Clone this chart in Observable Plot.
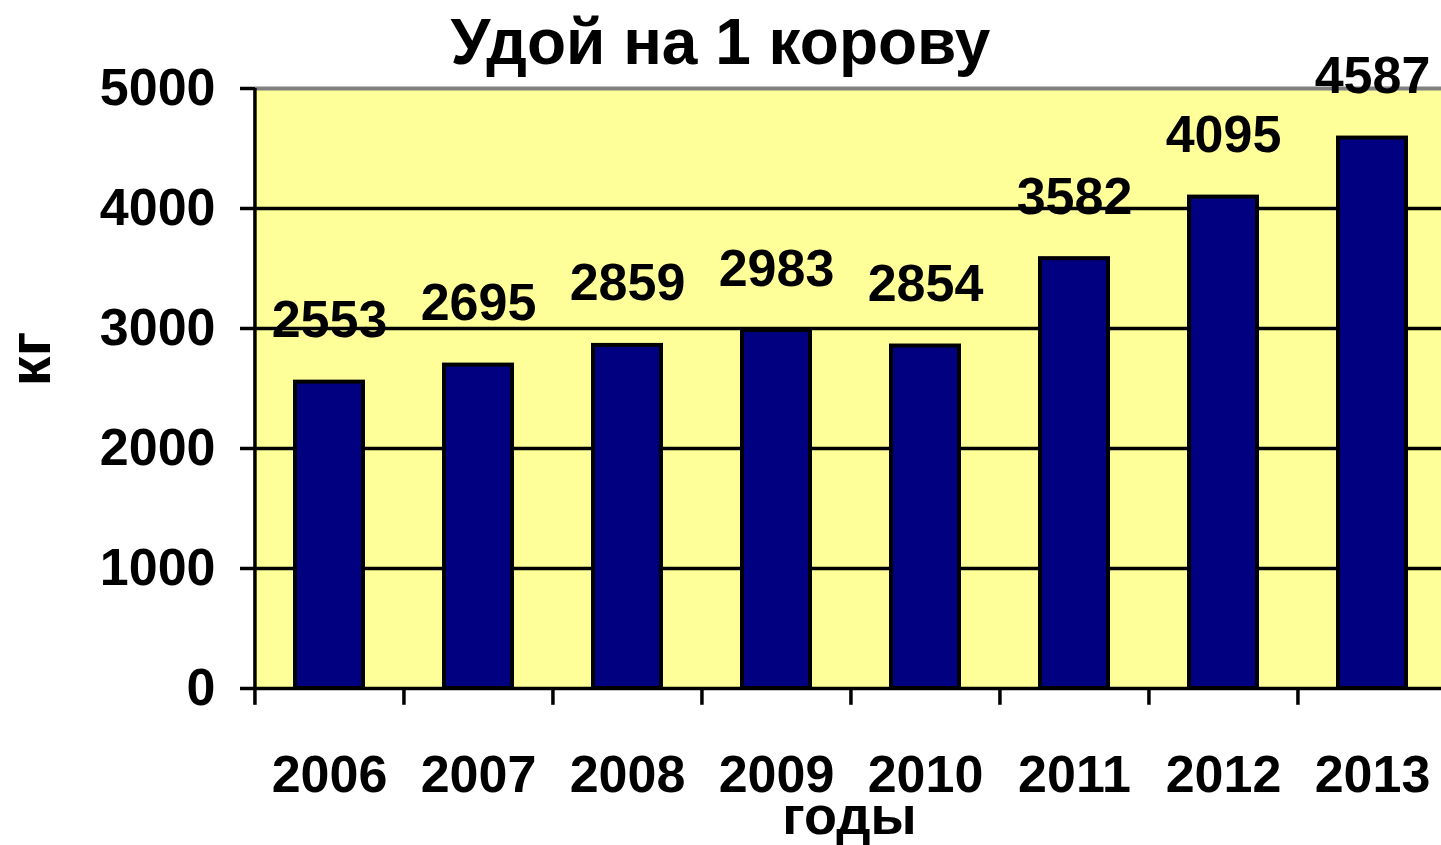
<!DOCTYPE html>
<html>
<head>
<meta charset="utf-8">
<script src="https://cdn.jsdelivr.net/npm/d3@7"></script>
<script src="https://cdn.jsdelivr.net/npm/@observablehq/plot@0.6"></script>
<style>
  html, body { margin: 0; padding: 0; background: #ffffff; }
  #chart { width: 1441px; height: 845px; overflow: hidden; }
</style>
</head>
<body>
<div id="chart"></div>
<script>
const years = ["2006", "2007", "2008", "2009", "2010", "2011", "2012", "2013"];
const yields = [2553, 2695, 2859, 2983, 2854, 3582, 4095, 4587];
const yTicks = [0, 1000, 2000, 3000, 4000, 5000];
const gridValues = [1000, 2000, 3000, 4000];
const titleText = "Удой на 1 корову";
const yLabel = "кг";
const xLabel = "годы";

const data = years.map((year, i) => ({year, value: yields[i]}));

const xRange = [254, 1447];
const step = (xRange[1] - xRange[0]) / years.length;
const font = "'Liberation Sans', Arial, Helvetica, sans-serif";

const chart = Plot.plot({
  width: 1441,
  height: 845,
  marginTop: 88,
  marginBottom: 157,
  marginLeft: 255,
  marginRight: 0,
  style: {fontFamily: font, background: "#ffffff", color: "#000000", overflow: "visible"},
  x: {domain: years, range: xRange, paddingInner: 0.545, paddingOuter: 0.2725},
  y: {domain: [0, 5000]},
  marks: [
    Plot.frame({fill: "#FFFF99", stroke: null}),
    Plot.ruleY(gridValues, {stroke: "#000000", strokeWidth: 3.5}),
    Plot.ruleY([5000], {stroke: "#808080", strokeWidth: 4}),
    Plot.ruleY([0], {stroke: "#000000", strokeWidth: 3.5}),
    Plot.ruleX([years[0]], {x: d => d, y1: 0, y2: 5000, dx: -step / 2, stroke: "#000000", strokeWidth: 3.5}),
    Plot.ruleX(years, {x: d => d, y1: -140, y2: 0, dx: -step / 2, stroke: "#000000", strokeWidth: 3.5}),
    Plot.barY(data, {x: "year", y: "value", fill: "#000080", stroke: "#000000", strokeWidth: 4}),
    Plot.text(data, {x: "year", y: "value", text: d => String(d.value), dy: -45, lineAnchor: "bottom",
      fontSize: 52, fontWeight: "bold", fill: "#000000"}),
    Plot.axisY({ticks: yTicks, tickFormat: d3.format("d"), tickSize: 15, tickPadding: 25,
      fontSize: 52, fontWeight: "bold", strokeWidth: 3.5, label: null}),
    Plot.axisX({tickSize: 0, tickPadding: 67, fontSize: 52, fontWeight: "bold", label: null}),
    Plot.text([titleText], {frameAnchor: "top", dx: -128, dy: -25, lineAnchor: "bottom",
      fontSize: 64, fontWeight: "bold", fill: "#000000"}),
    Plot.text([xLabel], {frameAnchor: "bottom", dx: 1, dy: 145, lineAnchor: "bottom",
      fontSize: 54, fontWeight: "bold", fill: "#000000"}),
    Plot.text([yLabel], {frameAnchor: "left", dx: -206, dy: -2, rotate: -90, lineAnchor: "bottom",
      fontSize: 60, fontWeight: "bold", fill: "#000000"})
  ]
});
document.getElementById("chart").appendChild(chart);
</script>
</body>
</html>
